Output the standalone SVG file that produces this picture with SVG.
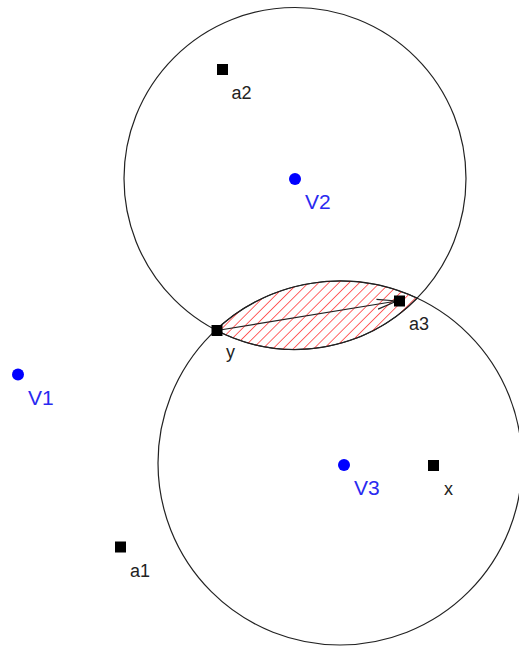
<svg xmlns="http://www.w3.org/2000/svg" width="519" height="647" viewBox="0 0 519 647">
<style>
.circ{fill:none;stroke:#222;stroke-width:1.2}
.pt{fill:#000}
.vdot{fill:#0000ff}
.lbl{font-family:"Liberation Sans",Arial,sans-serif;font-size:18px;fill:#222}
.vlbl{font-family:"Liberation Sans",Arial,sans-serif;font-size:21px;fill:#2a2af0}
</style>
<defs>
<pattern id="hatch" width="7.2" height="7.2" patternUnits="userSpaceOnUse" patternTransform="rotate(45)">
<line x1="0" y1="0" x2="0" y2="7.2" stroke="#ff0000" stroke-width="1.2"/>
</pattern>
<marker id="arr" markerWidth="24" markerHeight="14" refX="20" refY="7" orient="auto" markerUnits="userSpaceOnUse">
<path d="M0,2 L20,7 L0,12" fill="none" stroke="#222" stroke-width="1.2"/>
</marker>
</defs>
<rect width="519" height="647" fill="#fff"/>
<g id="circles">
<circle id="circleV2" class="circ" cx="295" cy="178.5" r="171"/>
<circle id="circleV3" class="circ" cx="340" cy="463" r="182"/>
</g>
<g id="lens">
<path d="M215.8,330 A182,182 0 0 1 417.2,298.2 A171,171 0 0 1 215.8,330 Z" fill="url(#hatch)" stroke="#222" stroke-width="1.2"/>
</g>
<g id="connectors">
<line x1="217" y1="330.5" x2="397" y2="301" stroke="#222" stroke-width="1.2" marker-end="url(#arr)"/>
</g>
<g id="node-V1"><circle class="vdot" cx="18" cy="374.5" r="6"/><text class="vlbl" x="28" y="405">V1</text></g>
<g id="node-V2"><circle class="vdot" cx="295" cy="179" r="6"/><text class="vlbl" x="305" y="209">V2</text></g>
<g id="node-V3"><circle class="vdot" cx="344" cy="465" r="6"/><text class="vlbl" x="354" y="495">V3</text></g>
<g id="node-a1"><rect class="pt" x="115" y="541.5" width="11" height="11"/><text class="lbl" x="130" y="577">a1</text></g>
<g id="node-a2"><rect class="pt" x="217" y="64" width="11" height="11"/><text class="lbl" x="231.5" y="99">a2</text></g>
<g id="node-a3"><rect class="pt" x="394" y="295.5" width="11" height="11"/><text class="lbl" x="409" y="330">a3</text></g>
<g id="node-x"><rect class="pt" x="428" y="460" width="11" height="11"/><text class="lbl" x="444" y="495">x</text></g>
<g id="node-y"><rect class="pt" x="211.5" y="325" width="11" height="11"/><text class="lbl" x="226" y="358">y</text></g>
</svg>
